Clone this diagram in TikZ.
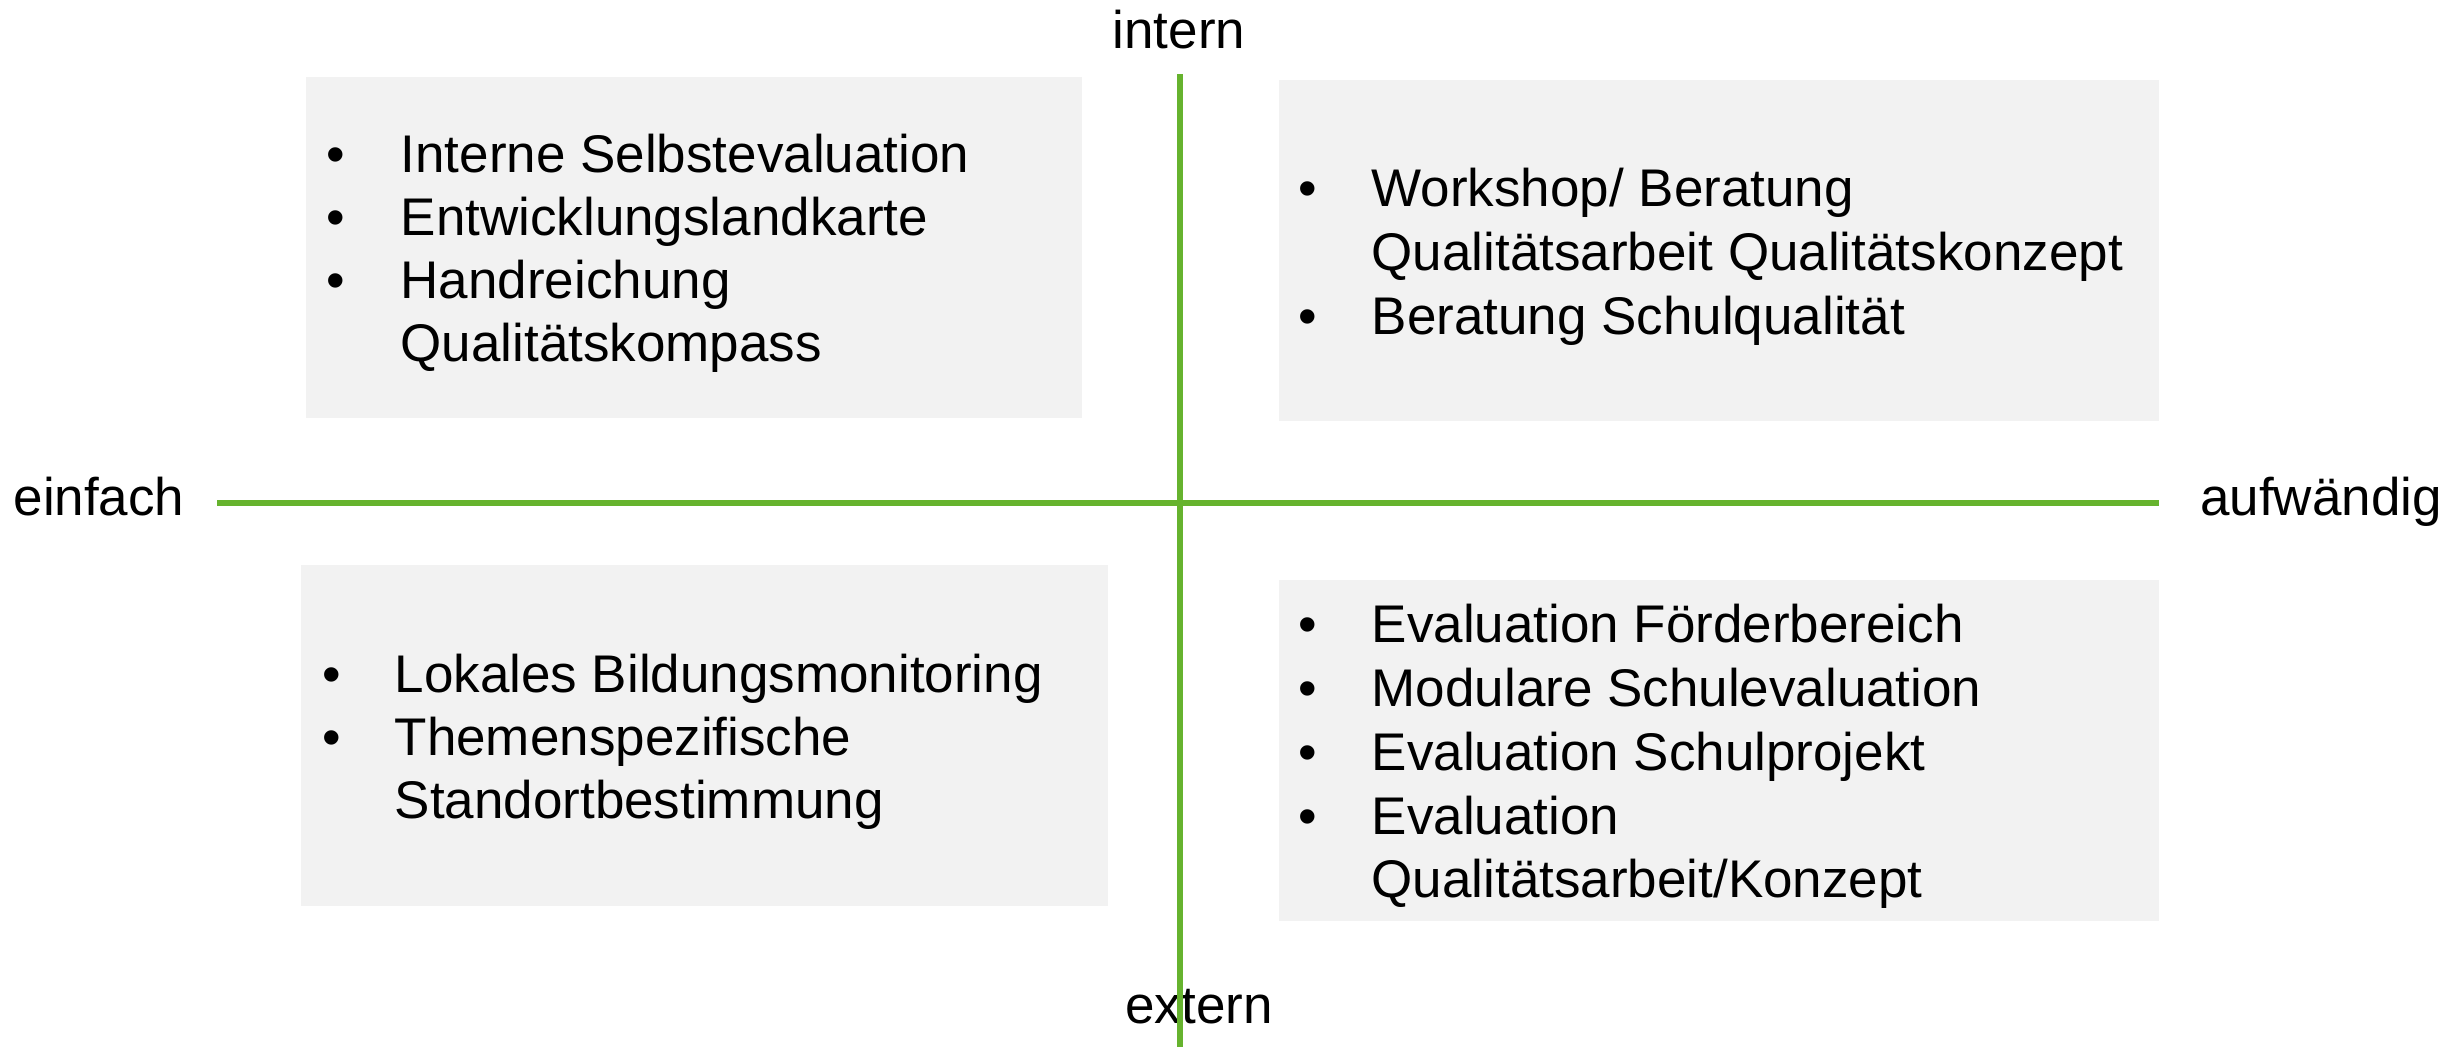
\documentclass[tikz,border=0pt]{standalone}
\usepackage{fontspec}
\setmainfont{Liberation Sans}
\definecolor{axisgreen}{HTML}{66B32E}
\definecolor{panelgray}{HTML}{F2F2F2}
\newcommand{\itemsize}{\fontsize{15.9pt}{19.05pt}\selectfont}
\tikzset{
  axisline/.style={draw=axisgreen, line width=1.85pt},
  panel/.style={fill=panelgray, draw=none, anchor=north west, inner sep=0pt, outer sep=0pt},
  itemtext/.style={anchor=base west, inner sep=0pt, font=\itemsize},
  bul/.style={anchor=base, inner sep=0pt, font=\itemsize},
  axlabel/.style={anchor=base, inner sep=0pt, font=\itemsize},
}
\begin{document}
\begin{tikzpicture}[x=0.3pt,y=-0.3pt]
\useasboundingbox (0,0) rectangle (2460,1047);
% panels
\node[panel, minimum width=776*0.3pt, minimum height=341*0.3pt] (ptl) at (306,77) {};
\node[panel, minimum width=880*0.3pt, minimum height=341*0.3pt] (ptr) at (1279,80) {};
\node[panel, minimum width=807*0.3pt, minimum height=341*0.3pt] (pbl) at (301,565) {};
\node[panel, minimum width=880*0.3pt, minimum height=341*0.3pt] (pbr) at (1279,580) {};
% top-left items
\node[bul] (tlb1) at (336,172) {•};
\node[itemtext] (tl1) at (400,172) {Interne Selbstevaluation};
\node[bul] (tlb2) at (336,235) {•};
\node[itemtext] (tl2) at (400,235) {Entwicklungslandkarte};
\node[bul] (tlb3) at (336,298) {•};
\node[itemtext] (tl3) at (400,298) {Handreichung};
\node[itemtext] (tl4) at (400,361) {Qualitätskompass};
% top-right items
\node[bul] (trb1) at (1308,206) {•};
\node[itemtext] (tr1) at (1371,206) {Workshop/ Beratung};
\node[itemtext] (tr2) at (1371,270) {Qualitätsarbeit Qualitätskonzept};
\node[bul] (trb3) at (1308,334) {•};
\node[itemtext] (tr3) at (1371,334) {Beratung Schulqualität};
% bottom-left items
\node[bul] (blb1) at (332,692) {•};
\node[itemtext] (bl1) at (394,692) {Lokales Bildungsmonitoring};
\node[bul] (blb2) at (332,755) {•};
\node[itemtext] (bl2) at (394,755) {Themenspezifische};
\node[itemtext] (bl3) at (394,818) {Standortbestimmung};
% bottom-right items
\node[bul] (brb1) at (1308,642) {•};
\node[itemtext] (br1) at (1371,642) {Evaluation Förderbereich};
\node[bul] (brb2) at (1308,706) {•};
\node[itemtext] (br2) at (1371,706) {Modulare Schulevaluation};
\node[bul] (brb3) at (1308,770) {•};
\node[itemtext] (br3) at (1371,770) {Evaluation Schulprojekt};
\node[bul] (brb4) at (1308,834) {•};
\node[itemtext] (br4) at (1371,834) {Evaluation};
\node[itemtext] (br5) at (1371,897) {Qualitätsarbeit/Konzept};
% axis labels
\node[axlabel] (intern) at (1179,48) {intern};
\node[axlabel] (extern) at (1199,1023) {extern};
\node[axlabel] (einfach) at (99,515) {einfach};
\node[axlabel] (aufw) at (2321,515) {aufwändig};
% axes
\coordinate (vtop) at (1180,74);
\coordinate (vbot) at (1180,1047);
\coordinate (hleft) at (217,503);
\coordinate (hright) at (2159,503);
\draw[axisline] (hleft) -- (hright);
\draw[axisline] (vtop) -- (vbot);
\end{tikzpicture}
\end{document}
